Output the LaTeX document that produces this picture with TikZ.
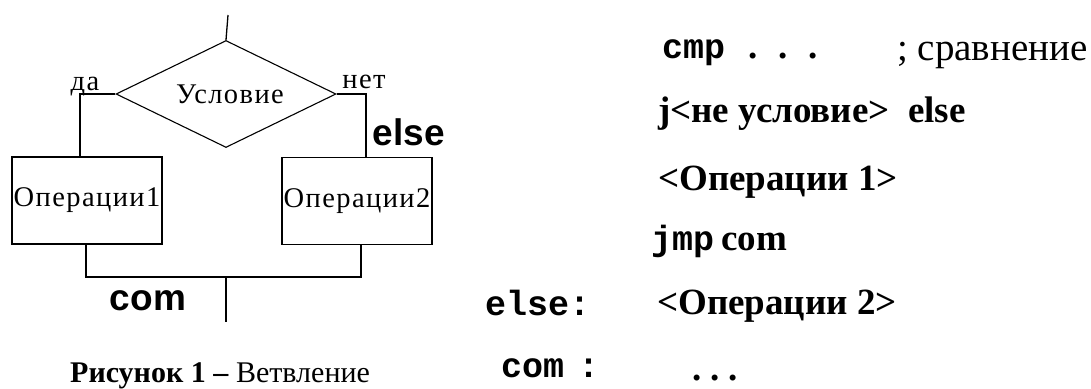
\documentclass[tikz,border=0pt]{standalone}
\usepackage{fontspec}
\setmainfont{Liberation Serif}
\newfontfamily\monof{Liberation Mono}
\newfontfamily\sansf{Liberation Sans}
\newfontfamily\dfont[LetterSpace=5]{Liberation Serif}
\usetikzlibrary{shapes.geometric}
\begin{document}
\begin{tikzpicture}[x=1pt,y=-1pt,
  line/.style={line width=1.3pt},
  dtext/.style={font=\dfont\fontsize{28.5}{28.5}\selectfont, inner sep=0pt},
  opbox/.style={draw, line width=1.3pt, minimum width=150pt, minimum height=87pt, inner sep=0pt, font=\dfont\fontsize{28.5}{28.5}\selectfont},
  lbl/.style={font=\sansf\bfseries\fontsize{37}{37}\selectfont, inner sep=0pt, anchor=base},
  code/.style={font=\bfseries\fontsize{37}{37}\selectfont, inner sep=0pt, anchor=base west},
  mcode/.style={font=\monof\bfseries\fontsize{35}{35}\selectfont, inner sep=0pt, anchor=base west},
  plain/.style={font=\fontsize{39}{39}\selectfont, inner sep=0pt, anchor=base west},
  captext/.style={font=\fontsize{30}{30}\selectfont, inner sep=0pt, anchor=base west}]
\useasboundingbox (0,0) rectangle (1091,388);

% flowchart
\coordinate (start) at (228,15);
\node[diamond, draw, line width=1.1pt, minimum width=220pt, minimum height=107pt, inner sep=0pt, aspect=2, dtext] (cond) at (226,94) {\hspace{8pt}Условие};
\node[opbox] (op1) at (87,200.5) {Операции1};
\node[opbox] (op2) at (357,201) {Операции2};
\coordinate (join) at (226,277);
\coordinate (end) at (226,322);

\draw[line] (start) -- (cond.north);
\draw[line] (cond.west) -| ([xshift=-7pt]op1.north);
\draw[line] (cond.east) -| ([xshift=9pt]op2.north);
\draw[line] ([xshift=-1pt]op1.south) |- (join) -| ([xshift=4pt]op2.south);
\draw[line] (join) -- (end);

\node[dtext, anchor=base] (da) at (85,90) {да};
\node[dtext, anchor=base] (net) at (364,88) {нет};
\node[lbl] (elselbl) at (409,145) {else};
\node[lbl] (comlbl) at (148,310) {com};

\node[captext] (caption) at (70,382) {\textbf{Рисунок 1 –} Ветвление};

% code listing
\node[mcode] (cmp) at (662,58) {cmp};
\node[code] (dots1) at (748,58) {.\hspace{21pt}.\hspace{21pt}.};
\node[plain] (cmt) at (897,60) {; сравнение};
\node[code] (jcond) at (658,122) {j<не условие>\ \ else};
\node[code] (ops1) at (658,190) {<Операции 1>};
\node[mcode] (jmp) at (651,250) {jmp};
\node[code] (jmpcom) at (721,250) {com};
\node[mcode] (elselab) at (485,315) {else:};
\node[code] (ops2) at (657,314) {<Операции 2>};
\node[mcode] (comlab) at (501,377) {com\hspace{-0.2em} :};
\node[code] (dots2) at (692,380) {.\hspace{9pt}.\hspace{9pt}.};
\end{tikzpicture}
\end{document}
